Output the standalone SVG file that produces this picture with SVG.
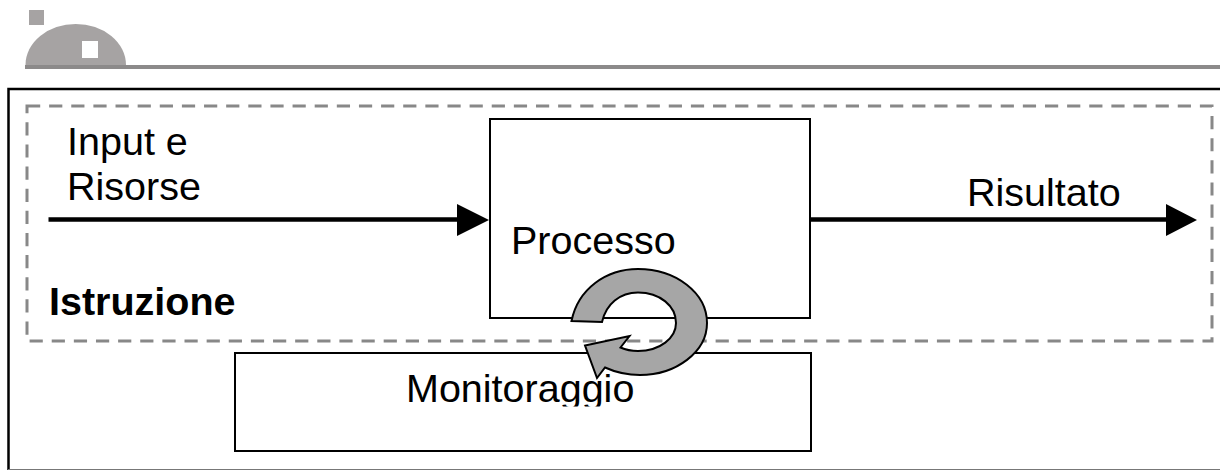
<svg xmlns="http://www.w3.org/2000/svg" width="1220" height="470" viewBox="0 0 1220 470">
<style>
.t{font-family:"Liberation Sans",Arial,sans-serif;font-size:39.500px;fill:#000}
.box{fill:#fff;stroke:#000;stroke-width:2}
.wire{fill:none;stroke:#000;stroke-width:4.500}
.head{fill:#000}
</style>
<defs><clipPath id="c"><rect x="235" y="360" width="576" height="46.5"/></clipPath></defs>
<rect width="1220" height="470" fill="#fff"/>
<g id="logo">
<rect x="29" y="10" width="15" height="15" fill="#a6a3a3"/>
<path d="M25.500 65A50.250 41 0 0 1 126 65Z" fill="#a6a3a3"/>
<rect x="82" y="41" width="16" height="17" fill="#fff"/>
<rect x="25" y="65" width="1195" height="4" fill="#8c8a8a"/>
</g>
<g id="frame"><path d="M1220 89H8.500V470" fill="none" stroke="#000" stroke-width="2.500"/><path d="M8 469.500H1220" fill="none" stroke="#777" stroke-width="1"/></g>
<g id="istruzione">
<rect x="27" y="106" width="1185" height="235" fill="none" stroke="#888" stroke-width="3" stroke-dasharray="13.200 8.930"/>
<text class="t" x="49" y="314.500" style="font-weight:bold">Istruzione</text>
</g>
<g id="processo">
<rect class="box" x="490" y="119" width="320" height="199"/>
<text class="t" x="511" y="254">Processo</text>
</g>
<g id="monitoraggio">
<rect class="box" x="235" y="353" width="576" height="98"/>
<text class="t" x="406" y="402" clip-path="url(#c)">Monitoraggio</text>
</g>
<g id="connectors">
<path class="wire" d="M48.500 219.500H458"/>
<polygon class="head" points="457,204 489,220 457,236"/>
<path class="wire" d="M810 219.500H1167"/>
<polygon class="head" points="1166,204 1197,220 1166,236"/>
</g>
<g id="labels">
<text class="t" x="67" y="155">Input e</text>
<text class="t" x="67" y="200">Risorse</text>
<text class="t" x="967" y="205.500">Risultato</text>
</g>
<g id="ciclo">
<path d="M571.500 321C578 289 606 269 638 269C676 269 707 293 707 323C707 352 676 375 640 375C627 375 615 372 605 367.500L597 378L585 345.500L629.500 336L620.500 347.500C626 350 632 351 638 351C660 351 676 338 676 323C676 306 660 292.500 638 292.500C620 292.500 606 304 602 322Z" fill="#a6a6a6" stroke="#000" stroke-width="2" stroke-linejoin="miter"/>
</g>
</svg>
